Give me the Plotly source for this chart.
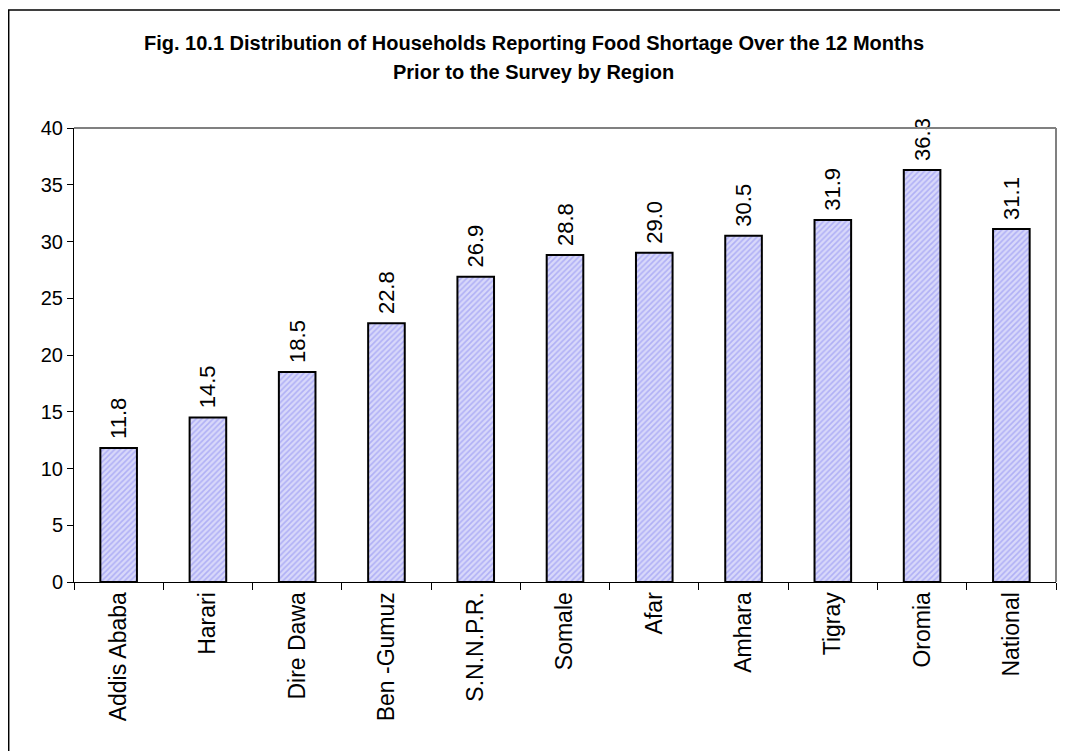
import plotly.graph_objects as go

regions = ["Addis Ababa", "Harari", "Dire Dawa", "Ben -Gumuz", "S.N.N.P.R.", "Somale",
           "Afar", "Amhara", "Tigray", "Oromia", "National"]
shortage_pct = [11.8, 14.5, 18.5, 22.8, 26.9, 28.8, 29.0, 30.5, 31.9, 36.3, 31.1]
y_ticks = [0, 5, 10, 15, 20, 25, 30, 35, 40]

title_lines = ["Fig. 10.1 Distribution of Households Reporting Food Shortage Over the 12 Months",
               "Prior to the Survey by Region"]

fig = go.Figure()
fig.add_trace(go.Bar(
    x=regions,
    y=shortage_pct,
    width=0.41,
    marker=dict(
        color="#d8d8fa",
        line=dict(color="black", width=2),
        pattern=dict(shape="/", fgcolor="#8888f0", bgcolor="#d8d8fa", size=4, solidity=0.4),
    ),
    text=["\u00a0" + f"{v:.1f}" for v in shortage_pct],
    textposition="outside",
    textangle=-90,
    textfont=dict(size=22, color="black"),
    constraintext="none",
    cliponaxis=False,
    hoverinfo="x+y",
))

fig.update_xaxes(showline=True, linecolor="black", linewidth=1, ticks="outside",
                 tickson="boundaries", ticklen=7, tickcolor="black", tickangle=-90,
                 tickfont=dict(size=23, color="black"), mirror=False, showgrid=False)
fig.update_yaxes(range=[0, 40], tickvals=y_ticks, showline=True, linecolor="black",
                 linewidth=1, ticks="outside", ticklen=6, tickcolor="black",
                 tickfont=dict(size=20, color="black"), showgrid=False, zeroline=False)

# grey frame on top and right of the plot area, outer chart border
fig.add_shape(type="line", xref="paper", yref="paper", x0=0, x1=1, y0=1, y1=1,
              line=dict(color="#808080", width=2))
fig.add_shape(type="line", xref="paper", yref="paper", x0=1, x1=1, y0=0, y1=1,
              line=dict(color="#808080", width=2))
fig.add_shape(type="rect", xref="paper", yref="paper", x0=-0.0665, x1=1.05, y0=-0.5, y1=1.2599,
              line=dict(color="black", width=1.5), layer="below")

# two-line title, placed as annotations to get the tighter line spacing
for text, ypos in zip(title_lines, [1.187, 1.123]):
    fig.add_annotation(text="<b>" + text + "</b>", xref="paper", yref="paper",
                       x=0.468, y=ypos, xanchor="center", yanchor="middle",
                       showarrow=False, font=dict(size=20, color="black"))

# page body adds an 8px margin, so the figure is 8px smaller than the window
fig.update_layout(
    width=1060, height=743,
    margin=dict(l=66, r=12, t=120, b=169),
    paper_bgcolor="white",
    plot_bgcolor="white",
    font_family="Liberation Sans, Arial, sans-serif",
    font_color="black",
    showlegend=False,
)

fig.write_html("out.html")
